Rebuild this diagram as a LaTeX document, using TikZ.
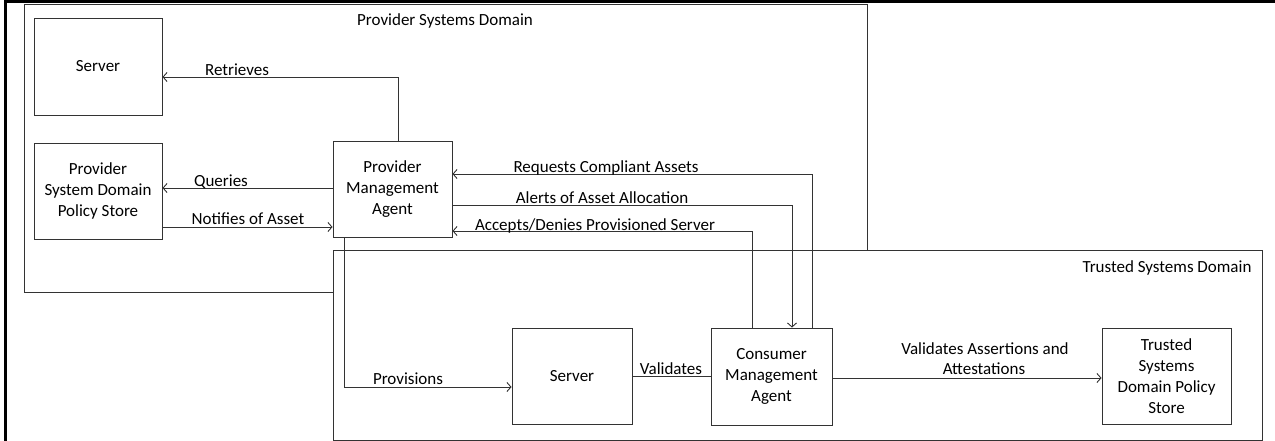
\documentclass[tikz,border=0pt]{standalone}
\usepackage{fontspec}
\setmainfont{Carlito}
\usetikzlibrary{arrows.meta}
\begin{document}
\begin{tikzpicture}[x=1pt,y=-1pt,
  every node/.style={font=\fontsize{17}{21}\selectfont},
  ln/.style={draw=black!80, line width=0.9pt},
  arr/.style={ln, -{Straight Barb[length=4pt,width=9pt,line width=0.9pt]}},
  domainbox/.style={draw=black!80, line width=0.9pt, fill=white, inner sep=0},
  box/.style={draw=black!80, line width=0.9pt, fill=white, align=center, inner sep=2pt},
  lbl/.style={anchor=base, inner sep=0, align=center}
]
\useasboundingbox (0,0) rectangle (1275,441);
% frame
\draw[line width=3pt] (5,441) -- (5,1.3) -- (1275,1.3);
% domains
\node[domainbox, minimum width=843pt, minimum height=288pt] (provDom) at (445.5,148) {};
\node[lbl] (provDomLbl) at (445,26) {Provider Systems Domain};
\node[domainbox, minimum width=929pt, minimum height=190pt] (trustDom) at (797.5,345) {};
\node[lbl] (trustDomLbl) at (1167,272) {Trusted Systems Domain};
% boxes
\node[box, minimum width=128pt, minimum height=97pt] (srvA) at (98,66.5) {Server};
\node[box, minimum width=128pt, minimum height=96pt] (pstore) at (98,191) {Provider\\System Domain\\Policy Store};
\node[box, minimum width=119pt, minimum height=96pt] (pma) at (392.5,189) {Provider\\Management\\Agent};
\node[box, minimum width=120pt, minimum height=96pt] (srvB) at (572,376) {Server};
\node[box, minimum width=121pt, minimum height=97pt] (cma) at (771.5,376.5) {Consumer\\Management\\Agent};
\node[box, minimum width=129pt, minimum height=96pt] (tstore) at (1166.5,376) {Trusted\\Systems\\Domain Policy\\Store};
% connectors
\draw[arr] (398,0 |- pma.north) |- (srvA.east |- 0,77);
\node[lbl] (lRetr) at (237,76) {Retrieves};
\draw[arr] (pma.west |- 0,188) -- (pstore.east |- 0,188);
\node[lbl] (lQuer) at (221,186) {Queries};
\draw[arr] (pstore.east |- 0,227) -- (pma.west |- 0,227);
\node[lbl] (lNotif) at (248,225) {Notifies of Asset};
\draw[arr] (812,0 |- cma.north) |- (pma.east |- 0,174);
\node[lbl] (lReq) at (606,173) {Requests Compliant Assets};
\draw[arr] (pma.east |- 0,205) -| (792,0 |- cma.north);
\node[lbl] (lAlert) at (602,204) {Alerts of Asset Allocation};
\draw[arr] (752,0 |- cma.north) |- (pma.east |- 0,231);
\node[lbl] (lAcc) at (595,230) {Accepts/Denies Provisioned Server};
\draw[arr] (344,0 |- pma.south) |- (srvB.west |- 0,387);
\node[lbl] (lProv) at (408,384) {Provisions};
\draw[ln] (srvB.east |- 0,376) -- (cma.west |- 0,376);
\node[lbl] (lVal) at (671,374) {Validates};
\draw[arr] (cma.east |- 0,378) -- (tstore.west |- 0,378);
\node[lbl] (lVAA1) at (985,354) {Validates Assertions and};
\node[lbl] (lVAA2) at (984,374) {Attestations};
\end{tikzpicture}
\end{document}
